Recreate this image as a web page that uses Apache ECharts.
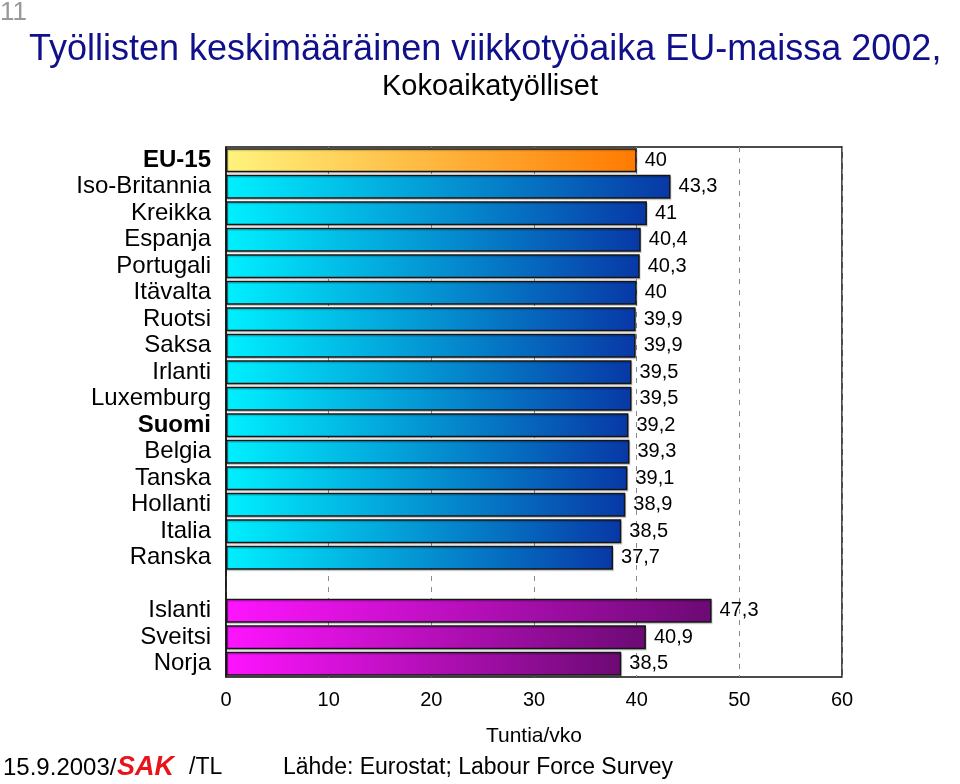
<!DOCTYPE html>
<html>
<head>
<meta charset="utf-8">
<script src="https://cdn.jsdelivr.net/npm/echarts@6/dist/echarts.min.js"></script>
<style>
  html, body { margin: 0; padding: 0; background: #fff; }
  #chart { width: 960px; height: 784px; }
</style>
</head>
<body>
<div id="chart"></div>
<script>
// maat ylhäältä alas, tyhjä rivi erottaa EU:n ulkopuoliset
var countries = ['EU-15', 'Iso-Britannia', 'Kreikka', 'Espanja', 'Portugali', 'Itävalta', 'Ruotsi', 'Saksa',
	'Irlanti', 'Luxemburg', 'Suomi', 'Belgia', 'Tanska', 'Hollanti', 'Italia', 'Ranska',
	'', 'Islanti', 'Sveitsi', 'Norja'];
var hours = [40, 43.3, 41, 40.4, 40.3, 40, 39.9, 39.9, 39.5, 39.5, 39.2, 39.3, 39.1, 38.9, 38.5, 37.7,
	null, 47.3, 40.9, 38.5];
var boldNames = ['EU-15', 'Suomi'];
var xTicks = [0, 10, 20, 30, 40, 50, 60];

function grad( c1, c2 )
{
	return new echarts.graphic.LinearGradient( 0, 0, 1, 0, [
		{ offset: 0, color: c1 },
		{ offset: 1, color: c2 }
	]);
}

var gapIdx = countries.indexOf( '' );
var barData = hours.map( function( v, i ){
	if( v === null ) return '-';
	var fill;
	if( countries[i] === 'EU-15' ) fill = grad( '#fff47e', '#ff7a00' );
	else if( i > gapIdx ) fill = grad( '#ff14ff', '#6c0a74' );
	else fill = grad( '#00f0ff', '#0838a6' );
	return { value: v, itemStyle: { color: fill } };
});

var chart = echarts.init( document.getElementById( 'chart' ) );
chart.setOption({
	animation: false,
	title: [
		{
			text: 'Työllisten keskimääräinen viikkotyöaika EU-maissa 2002,',
			left: 24, top: 27,
			textStyle: { color: '#10108a', fontSize: 36, fontWeight: 'normal', fontFamily: 'Liberation Sans' }
		},
		{
			text: 'Kokoaikatyölliset',
			left: 377, top: 67,
			textStyle: { color: '#000', fontSize: 29, fontWeight: 'normal', fontFamily: 'Liberation Sans' }
		}
	],
	grid: {
		left: 226, right: 118, top: 147, height: 530,
		show: true, borderColor: '#111', borderWidth: 1.5,
		containLabel: false
	},
	xAxis: {
		type: 'value',
		min: xTicks[0], max: xTicks[xTicks.length - 1], interval: 10,
		name: 'Tuntia/vko', nameLocation: 'middle', nameGap: 49,
		nameTextStyle: { color: '#000', fontSize: 21, fontFamily: 'Liberation Sans' },
		axisLine: { show: false },
		axisTick: { show: false },
		axisLabel: { color: '#000', fontSize: 20, margin: 13, fontFamily: 'Liberation Sans' },
		splitLine: { show: true, lineStyle: { color: '#8a8a8a', type: [5, 6], width: 1 } }
	},
	yAxis: {
		type: 'category',
		data: countries,
		inverse: true,
		axisLine: { show: true, lineStyle: { color: '#111', width: 1.5 } },
		axisTick: { show: false },
		axisLabel: {
			interval: 0,
			margin: 15,
			fontSize: 24,
			color: '#000',
			fontFamily: 'Liberation Sans',
			formatter: function( name ){
				return boldNames.indexOf( name ) >= 0 ? '{b|' + name + '}' : name;
			},
			rich: {
				b: { fontWeight: 'bold', fontSize: 24, color: '#000', fontFamily: 'Liberation Sans' }
			}
		}
	},
	series: [{
		type: 'bar',
		data: barData,
		barCategoryGap: '10%',
		itemStyle: {
			borderColor: '#151515', borderWidth: 1.5,
			shadowColor: 'rgba(0,0,0,0.15)', shadowOffsetX: 1, shadowOffsetY: 1.5
		},
		label: {
			show: true, position: 'right', distance: 8,
			fontSize: 20, color: '#000', fontFamily: 'Liberation Sans',
			formatter: function( p ){ return String( p.value ).replace( '.', ',' ); }
		}
	}],
	graphic: [
		{ type: 'text', left: 0, top: 0,
			style: { text: '11', fontSize: 26, fill: '#999', fontFamily: 'Liberation Sans' } },
		{ type: 'text', left: 3, top: 756,
			style: { text: '15.9.2003/', fontSize: 24, fill: '#000', fontFamily: 'Liberation Sans' } },
		{ type: 'text', left: 117, top: 754,
			style: { text: 'SAK', fontSize: 27, fill: '#e8141c', fontWeight: 'bold', fontStyle: 'italic', fontFamily: 'Liberation Sans' } },
		{ type: 'text', left: 189, top: 756,
			style: { text: '/TL', fontSize: 23, fill: '#000', fontFamily: 'Liberation Sans' } },
		{ type: 'text', left: 283, top: 756,
			style: { text: 'Lähde: Eurostat; Labour Force Survey', fontSize: 23, fill: '#000', fontFamily: 'Liberation Sans' } }
	]
});
</script>
</body>
</html>
